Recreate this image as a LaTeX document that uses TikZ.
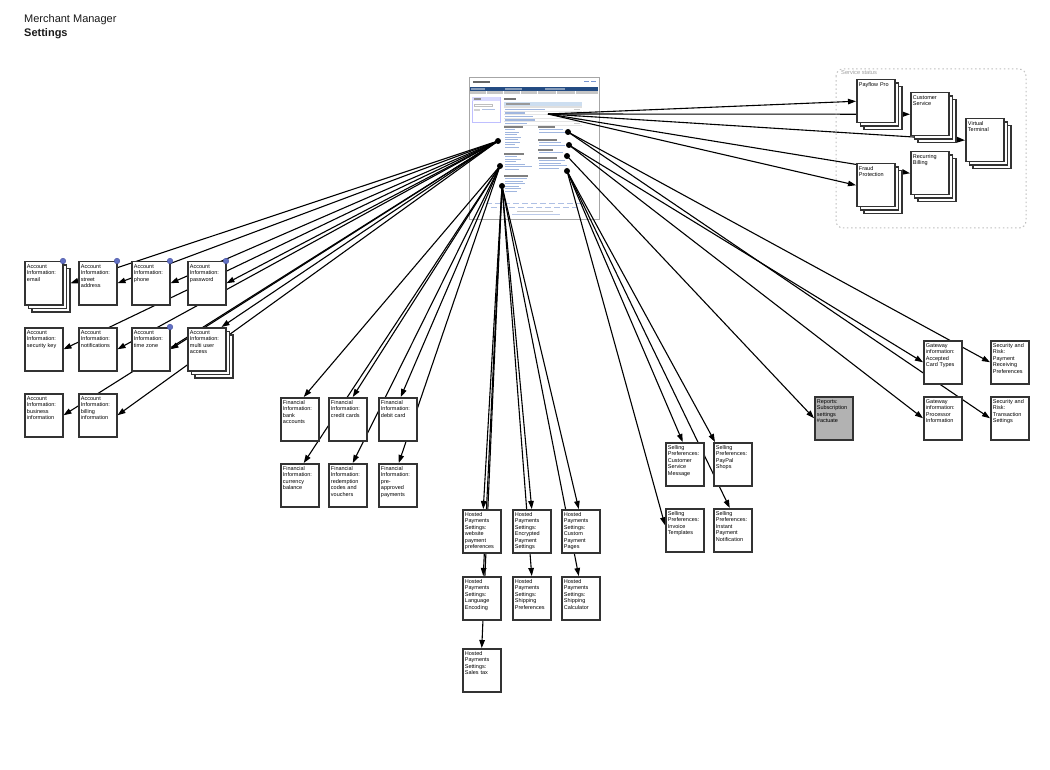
\documentclass[tikz,border=0pt]{standalone}
\usepackage{fontspec}
\setmainfont{Liberation Sans}
\usetikzlibrary{arrows.meta,shadows,calc}
\pgfdeclarelayer{shot}
\pgfdeclarelayer{lines}
\pgfsetlayers{shot,lines,main}
\newcommand{\boxfont}{\fontsize{5.5pt}{6.4pt}\selectfont}
\definecolor{linkblue}{RGB}{120,150,210}
\definecolor{navblue}{RGB}{35,75,130}
\definecolor{headblue}{RGB}{205,222,240}
\definecolor{bdot}{RGB}{98,113,196}
\definecolor{bdotline}{RGB}{70,80,160}
\definecolor{boxline}{RGB}{51,51,51}
\tikzset{
  bx/.style={draw=boxline, line width=1.5pt, fill=white, anchor=north west,
    inner xsep=2.2pt, inner ysep=0pt, text width=33.6pt, align=left,
    text height=6.8pt, text depth=36.2pt, font=\boxfont},
  stk/.style={bx, double copy shadow={shadow xshift=3.5pt, shadow yshift=-3.5pt}},
  conn/.style={line width=1.1pt, -{Triangle[length=8pt,width=5.5pt]}},
  bluedot/.style={fill=bdot, draw=bdotline, line width=0.4pt},
  srcdot/.style={fill=black},
}
\begin{document}
\begin{tikzpicture}[x=1pt,y=-1pt]
\useasboundingbox (0,0) rectangle (1050,770);

% title
\node[anchor=base west, inner sep=0pt, font=\fontsize{11pt}{13pt}\selectfont, text=black!90] (t1) at (24,23) {Merchant Manager};
\node[anchor=base west, inner sep=0pt, font=\fontsize{11pt}{13pt}\selectfont\bfseries, text=black!90] (t2) at (24,36.5) {Settings};

% ---------- screenshot ----------
\begin{pgfonlayer}{shot}
\draw[gray!70, line width=0.7pt, fill=white] (469,77) rectangle (599,219);
\fill[black!60] (473,81) rectangle (490,83.5);
\fill[linkblue] (584,81.5) rectangle (589,82.5);
\fill[linkblue] (591,81.5) rectangle (596,82.5);
\fill[navblue] (470,87) rectangle (598,91);
\fill[navblue!55!white] (471,87.8) rectangle (485,90.2);
\fill[navblue!55!white] (505,87.8) rectangle (522,90.2);
\fill[navblue!55!white] (545,87.8) rectangle (565,90.2);
\fill[gray!45] (470,91) rectangle (598,94.5);
\foreach \x in {486,503,520,537,556,575} \draw[white, line width=0.4pt] (\x,91.3) -- (\x,94.2);
% left box
\draw[blue!25, line width=0.4pt] (472,97) rectangle (500,122);
\fill[blue!15] (472.2,97.2) rectangle (499.8,101);
\fill[black!45] (474,98.5) rectangle (481,99.6);
\draw[gray!50, line width=0.3pt] (474,104) rectangle (492,106.5);
\fill[gray!35] (474,109) rectangle (480,111);
\fill[linkblue!60] (482,109.5) rectangle (495,110.5);
% settings heading + table
\fill[black!55] (504,98) rectangle (516,100);
\fill[headblue] (504,102) rectangle (582,106);
\fill[black!40] (506,103.5) rectangle (530,104.6);
\fill[gray!25] (504,106.5) rectangle (582,108);
\foreach \y in {111,114.5,118,121.5,125} \draw[gray!20, line width=0.3pt] (504,\y) -- (582,\y);
\foreach \y/\w in {109.6/40, 113/20, 116.5/28, 120/30, 123.4/22} \fill[linkblue!70] (505,\y-0.6) rectangle (505+\w,\y+0.6);
\foreach \y in {109.6,113,116.5,120,123.4} \fill[gray!40] (574,\y-0.5) rectangle (580,\y+0.5);
% left column sections
\fill[black!50] (504,126.5) rectangle (523,127.8);
\foreach \y/\w in {130/10,132.5/14,135/12,137.5/16,140/13,142.5/15,145/10,147.5/14} \fill[linkblue!70] (505,\y-0.5) rectangle (505+\w,\y+0.5);
\fill[black!50] (504,153.5) rectangle (524,154.8);
\foreach \y/\w in {157/12,159.5/16,162/11,164.5/20,167/27,169.5/14} \fill[linkblue!70] (505,\y-0.5) rectangle (505+\w,\y+0.5);
\fill[black!50] (504,175.5) rectangle (528,176.8);
\foreach \y/\w in {179/22,181.5/18,184/20,186.5/14,189/16,191.5/12} \fill[linkblue!70] (505,\y-0.5) rectangle (505+\w,\y+0.5);
% right column sections
\fill[black!50] (538,126.5) rectangle (555,127.8);
\foreach \y/\w in {130/24,132.5/30} \fill[linkblue!70] (539,\y-0.5) rectangle (539+\w,\y+0.5);
\fill[black!50] (538,139.5) rectangle (557,140.8);
\foreach \y/\w in {143/22,145.5/26} \fill[linkblue!70] (539,\y-0.5) rectangle (539+\w,\y+0.5);
\fill[black!50] (538,149.5) rectangle (553,150.8);
\foreach \y/\w in {153/24} \fill[linkblue!70] (539,\y-0.5) rectangle (539+\w,\y+0.5);
\fill[black!50] (538,157.5) rectangle (557,158.8);
\foreach \y/\w in {161/26,163.5/22,166/28,168.5/20} \fill[linkblue!70] (539,\y-0.5) rectangle (539+\w,\y+0.5);
% footer
\foreach \x in {486,495,...,578} \fill[linkblue!60] (\x,203) rectangle (\x+6,204);
\foreach \x in {491,500,...,574} \fill[linkblue!60] (\x,207) rectangle (\x+6,208);
\fill[gray!45] (517,211.5) rectangle (553,212.4);
\fill[linkblue!50] (512,214.5) rectangle (560,215.4);
\end{pgfonlayer}

% ---------- source points ----------
\coordinate (A) at (498,141);
\coordinate (F) at (500,166);
\coordinate (H) at (502,186);
\coordinate (SR) at (568,132);
\coordinate (GI) at (569,145);
\coordinate (RP) at (567,156);
\coordinate (SP) at (567,171);
\coordinate (SS) at (548,114);

% ---------- service status ----------
\draw[gray!50, line width=1pt, dash pattern=on 1.5pt off 2.6pt, rounded corners=7pt] (836,69) rectangle (1026,228);
\node[anchor=north west, inner sep=0pt, font=\fontsize{5.7pt}{6.5pt}\selectfont, text=gray!75] (sslabel) at (841,70.5) {Service status};

\node[stk] (payflow) at (856,79) {Payflow Pro};
\node[stk] (cs) at (910,92) {Customer\\Service};
\node[stk] (vt) at (965,118) {Virtual\\Terminal};
\node[stk] (fraud) at (856,163) {Fraud\\Protection};
\node[stk] (rb) at (910,151) {Recurring\\Billing};

% ---------- account information ----------
\node[stk] (email) at (24,261) {Account\\Information:\\email};
\node[bx] (street) at (78,261) {Account\\Information:\\street\\address};
\node[bx] (phone) at (131,261) {Account\\Information:\\phone};
\node[bx] (pwd) at (187,261) {Account\\Information:\\password};
\node[bx] (seckey) at (24,327) {Account\\Information:\\security key};
\node[bx] (notif) at (78,327) {Account\\Information:\\notifications};
\node[bx] (tz) at (131,327) {Account\\Information:\\time zone};
\node[stk] (multi) at (187,327) {Account\\Information:\\multi user\\access};
\node[bx] (biz) at (24,393) {Account\\Information:\\business\\information};
\node[bx] (bill) at (78,393) {Account\\Information:\\billing\\information};

% ---------- financial ----------
\node[bx] (bank) at (280,397) {Financial\\Information:\\bank\\accounts};
\node[bx] (credit) at (328,397) {Financial\\Information:\\credit cards};
\node[bx] (debit) at (378,397) {Financial\\Information:\\debit card};
\node[bx] (currency) at (280,463) {Financial\\Information:\\currency\\balance};
\node[bx] (redemp) at (328,463) {Financial\\Information:\\redemption\\codes and\\vouchers};
\node[bx] (preapp) at (378,463) {Financial\\Information:\\pre-\\approved\\payments};

% ---------- hosted payments ----------
\node[bx] (website) at (462,509) {Hosted\\Payments\\Settings:\\website\\payment\\preferences};
\node[bx] (enc) at (512,509) {Hosted\\Payments\\Settings:\\Encrypted\\Payment\\Settings};
\node[bx] (custom) at (561,509) {Hosted\\Payments\\Settings:\\Custom\\Payment\\Pages};
\node[bx] (lang) at (462,576) {Hosted\\Payments\\Settings:\\Language\\Encoding};
\node[bx] (shipp) at (512,576) {Hosted\\Payments\\Settings:\\Shipping\\Preferences};
\node[bx] (calc) at (561,576) {Hosted\\Payments\\Settings:\\Shipping\\Calculator};
\node[bx] (sales) at (462,648) {Hosted\\Payments\\Settings:\\Sales tax};

% ---------- selling preferences ----------
\node[bx] (csm) at (665,442) {Selling\\Preferences:\\Customer\\Service\\Message};
\node[bx] (paypal) at (713,442) {Selling\\Preferences:\\PayPal\\Shops};
\node[bx] (invoice) at (665,508) {Selling\\Preferences:\\Invoice\\Templates};
\node[bx] (ipn) at (713,508) {Selling\\Preferences:\\Instant\\Payment\\Notification};

% ---------- reports / gateway / security ----------
\node[bx, fill=black!30] (reports) at (814,396) {Reports:\\Subscription\\settings\\\#actuate};
\node[bx] (gwa) at (923,340) {Gateway\\information:\\Accepted\\Card Types};
\node[bx] (gwp) at (923,396) {Gateway\\information:\\Processor\\Information};
\node[bx] (srp) at (990,340) {Security and\\Risk:\\Payment\\Receiving\\Preferences};
\node[bx] (srt) at (990,396) {Security and\\Risk:\\Transaction\\Settings};

% blue markers
\foreach \n in {email,street,phone,pwd,tz} \filldraw[bluedot] ([xshift=-0.5pt]\n.north east) circle (2.8pt);

% ---------- connectors ----------
\begin{pgfonlayer}{lines}
\draw[conn] (A) -- ([xshift=7pt]email.east);
\draw[conn] (A) -- (street.east);
\draw[conn] (A) -- (phone.east);
\draw[conn] (A) -- (pwd.east);
\draw[conn] (A) -- (seckey.east);
\draw[conn] (A) -- (notif.east);
\draw[conn] (A) -- (tz.east);
\draw[conn] (A) -- ([xshift=-5pt]multi.north east);
\draw[conn] (A) -- (biz.east);
\draw[conn] (A) -- (bill.east);

\draw[conn] (F) -- ([xshift=4pt]bank.north);
\draw[conn] (F) -- ([xshift=5pt]credit.north);
\draw[conn] (F) -- ([xshift=3pt]debit.north);
\draw[conn] (F) -- ([xshift=4pt]currency.north);
\draw[conn] (F) -- ([xshift=5pt]redemp.north);
\draw[conn] (F) -- ([xshift=1pt]preapp.north);

\draw[conn] (H) -- ([xshift=1.5pt]website.north);
\draw[conn] (H) -- ([xshift=1.5pt]lang.north);
\draw[conn] (H) -- (sales.north);
\draw[conn] (H) -- (enc.north);
\draw[conn] (H) -- (shipp.north);
\draw[conn] (H) -- ([xshift=-2pt]custom.north);
\draw[conn] (H) -- ([xshift=-2pt]calc.north);

\draw[conn] (SP) -- ([xshift=-2pt]csm.north);
\draw[conn] (SP) -- ([xshift=2pt]paypal.north west);
\draw[conn] (SP) -- ([yshift=5pt]invoice.west);
\draw[conn] (SP) -- ([xshift=-3pt]ipn.north);

\draw[conn] (RP) -- (reports.west);
\draw[conn] (GI) -- (gwa.west);
\draw[conn] (GI) -- (gwp.west);
\draw[conn] (SR) -- (srp.west);
\draw[conn] (SR) -- (srt.west);

\draw[conn] (SS) -- (payflow.west);
\draw[conn] (SS) -- (cs.west);
\draw[conn] (SS) -- (vt.west);
\draw[conn] (SS) -- (fraud.west);
\draw[conn] (SS) -- (rb.west);

\foreach \p in {A,F,H,SR,GI,RP,SP} \fill[srcdot] (\p) circle (3pt);
\end{pgfonlayer}
\end{tikzpicture}
\end{document}
